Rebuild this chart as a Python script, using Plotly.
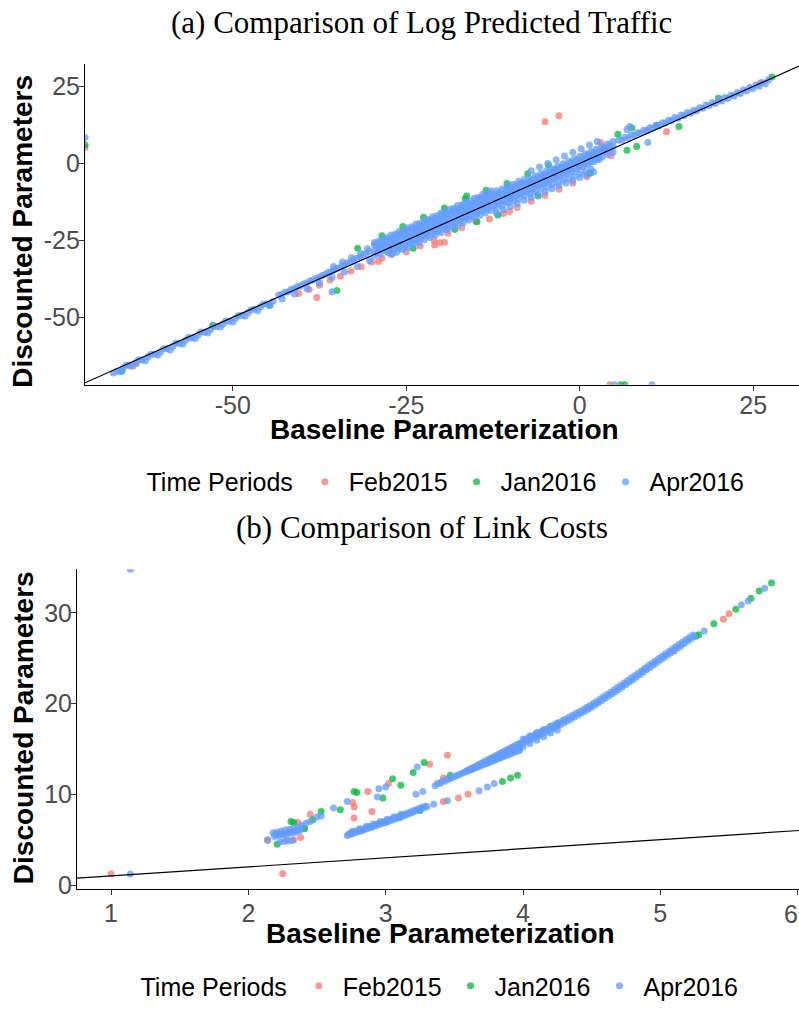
import plotly.graph_objects as go

# ---------------- DATA ----------------
periods = ["Feb2015", "Jan2016", "Apr2016"]
colors = ["#F8766D", "#00BA38", "#619CFF"]

a_xticks = [-50, -25, 0, 25]
a_xtick_labels = ["-50", "-25", "0", "25"]
a_yticks = [-50, -25, 0, 25]
a_ytick_labels = ["-50", "-25", "0", "25"]
b_xticks = [1, 2, 3, 4, 5, 6]
b_xtick_labels = ["1", "2", "3", "4", "5", "6"]
b_yticks = [0, 10, 20, 30]
b_ytick_labels = ["0", "10", "20", "30"]

a_range_x = [-71.3, 31.6]
a_range_y = [-71.9, 32.3]
b_range_x = [0.752, 6.01]
b_range_y = [-0.44, 34.8]

# ----- panel (a): log predicted traffic -----
# Apr2016 (blue), read segment by segment along the band
a_apr_seg1_x = [-67.2, -66.7, -65.8, -64.9, -64.0, -63.1, -62.2, -61.3, -60.4, -59.5, -58.6, -57.7, -56.8, -55.9,
                -55.0, -54.1, -53.2, -52.3, -51.4, -50.5, -49.6, -48.7, -47.8, -46.9, -46.0, -45.1, -44.2,
                -65.4, -63.6, -61.8, -60.0, -58.2, -56.4, -54.6, -52.8, -51.0, -49.2, -47.4, -45.6]
a_apr_seg1_y = [-68.1, -67.5, -66.6, -65.5, -64.8, -63.9, -62.8, -62.0, -61.2, -60.2, -59.4, -58.5, -57.5, -56.7,
                -55.8, -54.9, -54.0, -53.0, -52.2, -51.3, -50.3, -49.4, -48.5, -47.4, -46.6, -45.6, -44.8,
                -65.6, -63.8, -62.0, -60.2, -58.4, -56.6, -54.8, -53.0, -51.2, -49.4, -47.6, -45.8]
a_apr_seg2_x = [-66.2, -64.4, -62.6, -60.8, -59.0, -57.2, -55.4, -53.6, -51.8, -50.0, -48.2, -46.4, -44.6]
a_apr_seg2_y = [-67.6, -65.9, -64.1, -62.3, -60.6, -58.7, -56.9, -55.1, -53.2, -51.5, -49.6, -47.9, -46.0]
a_apr_seg3_x = [-43.4, -42.5, -41.6, -40.7, -39.8, -38.9, -38.0, -37.1, -36.2, -35.3, -34.4, -33.5, -32.6, -31.7, -30.8,
                -42.95, -42.05, -41.15, -40.25, -39.35, -38.45, -37.55, -36.65, -35.75, -34.85, -33.95, -33.05,
                -32.15, -31.25, -30.35,
                -42.9, -41.1, -39.3, -37.5, -35.7, -33.9, -32.1, -30.3,
                -35.5, -34.2, -32.9, -31.6, -30.6, -35.7]
a_apr_seg3_y = [-42.8, -41.9, -41.0, -40.0, -39.2, -38.2, -37.3, -36.4, -35.4, -34.5, -33.5, -32.4, -31.4, -30.4, -29.3,
                -42.6, -41.7, -40.7, -39.8, -38.9, -37.9, -37.0, -36.0, -35.1, -34.1, -33.0, -32.0,
                -30.9, -29.8, -28.6,
                -44.1, -42.4, -40.7, -38.9, -37.1, -35.3, -33.5, -31.6,
                -33.5, -32.0, -30.6, -29.2, -27.7, -41.7]
a_apr_row0_x = [-29.6, -28.4, -27.2, -26.0, -24.8, -23.6, -22.4, -21.2, -20.0, -18.8, -17.6, -16.4, -15.2, -14.0,
                -12.8, -29.0, -27.8, -26.6, -25.4, -24.2, -23.0, -21.8, -20.6, -19.4, -18.2, -17.0, -15.8, -14.6,
                -13.4]
a_apr_row0_y = [-25.7, -24.5, -23.3, -22.1, -20.9, -19.7, -18.5, -17.3, -16.1, -14.9, -13.7, -12.5, -11.3, -10.1,
                -8.9, -25.4, -24.2, -23.0, -21.8, -20.6, -19.4, -18.2, -17.0, -15.8, -14.6, -13.4, -12.2, -11.0,
                -9.8]
a_apr_row1_x = [-29.6, -28.8, -28.0, -27.2, -26.4, -25.6, -24.8, -24.0, -23.2, -22.4, -21.6, -20.8, -20.0, -19.2, -18.4,
                -17.6, -16.8, -16.0, -15.2, -14.4, -13.6, -12.8, -12.0, -11.2, -10.4, -9.6, -8.8, -8.0, -7.2, -6.4,
                -5.6, -4.8, -4.0, -3.2, -2.4, -1.6, -0.8, 0.0, 0.8, 1.6, 2.4, 3.2, 4.0, 4.8]
a_apr_row1_y = [-26.5, -25.9, -24.9, -24.3, -23.3, -22.7, -21.7, -21.1, -20.1, -19.5, -18.5, -17.9, -16.9, -16.3, -15.3,
                -14.7, -13.7, -13.1, -12.1, -11.5, -10.5, -9.9, -8.9, -8.3, -7.3, -6.8, -5.8, -5.2, -4.9, -4.1,
                -3.3, -2.5, -1.7, -0.9, -0.1, 0.7, 1.5, 2.3, 3.1, 3.9, 4.7, 5.5, 6.3, 7.1]
a_apr_row2_x = a_apr_row1_x
a_apr_row2_y = [-28.3, -27.7, -26.7, -26.1, -25.1, -24.5, -23.5, -22.9, -21.9, -21.3, -20.3, -19.7, -18.7, -18.1, -17.1,
                -16.5, -15.5, -14.9, -13.9, -13.3, -12.3, -11.7, -10.7, -10.1, -9.1, -8.5, -7.5, -6.9, -5.9, -5.3,
                -4.4, -3.7, -2.9, -2.1, -1.3, -0.6, 0.2, 0.8, 1.7, 2.3, 3.2, 3.9, 4.8, 5.5]
a_apr_row3_x = a_apr_row1_x
a_apr_row3_y = [-30.1, -29.5, -28.5, -27.9, -26.9, -26.3, -25.3, -24.7, -23.7, -23.1, -22.1, -21.5, -20.5, -19.9, -18.9,
                -18.3, -17.3, -16.7, -15.7, -15.1, -14.1, -13.5, -12.5, -11.9, -10.9, -10.3, -9.4, -8.8, -7.9, -7.2,
                -6.4, -5.6, -4.8, -4.0, -3.2, -2.5, -1.7, -1.0, -0.2, 0.5, 1.3, 2.0, 2.9, 3.6]
a_apr_row4_x = [-27.2, -26.4, -25.6, -24.8, -24.0, -23.2, -22.4, -21.6, -20.8, -20.0, -19.2, -18.4, -17.6, -16.8, -16.0,
                -15.2, -14.4, -13.6, -12.8, -12.0, -11.2, -10.4, -9.6, -8.8, -8.0, -7.2, -6.4, -5.6, -4.8, -4.0,
                -3.2, -2.4, -1.6, -0.8, 0.0, 0.8, 1.6]
a_apr_row4_y = [-29.6, -28.9, -28.0, -27.3, -26.4, -25.7, -24.8, -24.1, -23.2, -22.5, -21.6, -20.9, -20.0, -19.3, -18.4,
                -17.7, -16.9, -16.1, -15.3, -14.5, -13.7, -12.9, -12.1, -11.4, -10.6, -9.8, -9.1, -8.3, -7.6, -6.9,
                -6.2, -5.5, -4.8, -4.1, -3.4, -2.6, -1.9]
a_apr_mid_x = [-29.2, -28.4, -27.6, -26.8, -26.0, -25.2, -24.4, -23.6, -22.8, -22.0, -21.2, -20.4, -19.6, -18.8, -18.0,
               -17.2, -16.4, -15.6, -14.8, -14.0, -13.2, -12.4, -11.6, -10.8, -10.0, -9.2, -8.4, -7.6, -6.8, -6.0,
               -5.2, -4.4, -3.6, -2.8, -2.0, -1.2, -0.4, 0.4, 1.2, 2.0, 2.8, 3.6, 4.4]
a_apr_mid1_y = [-27.1, -26.3, -25.5, -24.7, -23.9, -23.1, -22.3, -21.5, -20.7, -19.9, -19.1, -18.3, -17.5, -16.7, -15.9,
                -15.1, -14.3, -13.5, -12.7, -11.9, -11.1, -10.3, -9.5, -8.7, -7.9, -7.1, -6.3, -6.1, -5.3, -4.5,
                -3.7, -2.9, -2.1, -1.3, -0.5, 0.3, 1.1, 1.9, 2.7, 3.5, 4.3, 5.1, 5.9]
a_apr_mid2_y = [-28.9, -28.1, -27.3, -26.5, -25.7, -24.9, -24.1, -23.3, -22.5, -21.7, -20.9, -20.1, -19.3, -18.5, -17.7,
                -16.9, -16.1, -15.3, -14.5, -13.7, -12.9, -12.1, -11.3, -10.5, -9.7, -8.9, -8.1, -7.3, -6.5, -5.7,
                -4.9, -4.1, -3.3, -2.5, -1.7, -0.9, -0.1, 0.7, 1.5, 2.3, 3.1, 3.9, 4.7]
a_apr_mid3_x = [-27.6, -26.8, -26.0, -25.2, -24.4, -23.6, -22.8, -22.0, -21.2, -20.4, -19.6, -18.8, -18.0, -17.2,
                -16.4, -15.6, -14.8, -14.0, -13.2, -12.4, -11.6, -10.8, -10.0, -9.2, -8.4, -7.6, -6.8, -6.0, -5.2,
                -4.4, -3.6, -2.8, -2.0, -1.2, -0.4, 0.4, 1.2, 2.0, 2.8]
a_apr_mid3_y = [-29.1, -28.3, -27.5, -26.7, -25.9, -25.1, -24.3, -23.5, -22.7, -21.9, -21.1, -20.3, -19.5, -18.7,
                -17.9, -17.1, -16.3, -15.5, -14.7, -13.9, -13.1, -12.3, -11.5, -10.7, -9.9, -9.1, -8.3, -7.5, -6.7,
                -5.9, -5.1, -4.3, -3.5, -2.7, -1.9, -1.1, -0.3, 0.5, 1.3]
a_apr_row5_x = [-12.0, -11.0, -10.0, -9.0, -8.0, -7.0, -6.0, -5.0, -4.0, -3.0, -2.0, -1.0, 0.0, 1.0, 2.0]
a_apr_row5_y = [-16.1, -15.0, -14.0, -13.0, -12.0, -11.1, -10.1, -9.2, -8.2, -7.3, -6.4, -5.5, -4.6, -3.7, -2.8]
a_apr_upper_x = [-7.0, -5.8, -4.6, -3.4, -2.2, -1.0, 0.2, 1.4, 2.5]
a_apr_upper_y = [-2.4, -1.2, 0.0, 1.2, 2.4, 3.6, 4.8, 6.0, 7.1]
a_apr_right_x = [5.6, 6.5, 7.4, 8.3, 9.2, 10.1, 11.0, 11.9, 12.8, 13.7, 14.6, 15.5, 16.4, 17.3, 18.2, 19.1, 20.0,
                 20.9, 21.8, 22.7, 23.6, 24.5, 25.4, 26.3, 27.2,
                 6.05, 6.95, 7.85, 8.75, 9.65, 10.55, 11.45, 12.35, 13.25, 14.15, 15.05, 15.95, 16.85, 17.75,
                 18.65, 19.55, 20.45, 21.35, 22.25, 23.15, 24.05, 24.95, 25.85, 26.75,
                 6.8, 7.2, 9.8]
a_apr_right_y = [7.6, 8.4, 9.2, 10.0, 10.8, 11.6, 12.4, 13.2, 14.0, 14.9, 15.7, 16.5, 17.3, 18.1, 19.0, 19.8, 20.6,
                 21.4, 22.2, 23.0, 23.9, 24.7, 25.5, 26.3, 27.2,
                 7.5, 8.3, 9.1, 9.9, 10.7, 11.5, 12.3, 13.1, 13.9, 14.7, 15.5, 16.3, 17.1, 17.9,
                 18.7, 19.5, 20.3, 21.1, 21.9, 22.7, 23.5, 24.3, 25.1, 25.9,
                 11.0, 12.0, 6.8]
a_apr_edge_x = [-71.3, 5.0, 10.4]
a_apr_edge_y = [8.4, -71.9, -71.9]

# Feb2015 (red)
a_feb_x = [-64.8, -63.9, -40.5, -39.0, -37.5, -36.0, -34.5, -33.0, -31.5, -30.0, -28.5, -27.0, -37.9,
           -20.9, -20.2, -19.5, -10.1, -5.0, -3.0,
           -29.0, -25.0, -23.0, -21.0, -19.0, -17.0, -15.0, -13.0, -11.0, -9.0, -7.0, -5.0, -3.0, -1.0, 1.0,
           3.0, 4.5, 9.7, 12.5, 26.0, -71.3, 4.3]
a_feb_y = [-65.8, -65.1, -42.3, -41.0, -39.6, -37.9, -36.6, -35.0, -33.6, -32.0, -30.7, -29.4, -43.6,
           -26.5, -25.8, -25.6, -15.6, 13.5, 15.5,
           -31.9, -28.7, -26.8, -24.9, -22.7, -20.9, -18.8, -18.1, -16.3, -14.3, -12.3, -10.4, -8.4, -6.4, -4.3,
           6.8, 2.5, 10.6, 10.3, 26.1, 5.2, -71.9]

# Jan2016 (green)
a_jan_x = [-66.0, -52.9, -44.7, -35.0, -32.0, -28.5, -25.5, -22.5, -19.5, -16.5, -13.5, -10.5, -7.5, -4.5,
           -14.8, -11.8, -16.3, 3.5, 5.5, 6.8, 7.5, 8.2, 11.1, 14.3, 20.0, 27.7, -71.3, 5.9, 6.5,
           -24.0, -18.0, -6.0, 1.5]
a_jan_y = [-67.5, -52.6, -46.2, -41.3, -27.6, -23.5, -20.5, -17.5, -14.5, -11.5, -8.7, -6.5, -3.4, -0.5,
           -19.0, -16.8, -10.6, 5.0, 9.5, 4.3, 11.5, 5.5, 12.3, 12.0, 21.2, 28.1, 6.1, -71.9, -71.9,
           -27.6, -21.5, -10.6, -3.2]

# ----- panel (b): link costs -----
b_apr_cluster_x = [1.14, 1.14, 2.14, 2.42, 2.45,
                   2.18, 2.21, 2.24, 2.27, 2.30, 2.33, 2.36, 2.39,
                   2.19, 2.22, 2.25, 2.28, 2.31, 2.34, 2.37,
                   2.205, 2.235, 2.265, 2.295, 2.325, 2.355, 2.385,
                   2.23, 2.26, 2.29, 2.32,
                   2.50, 2.53, 2.62, 2.72, 2.94, 3.00, 2.95, 3.23]
b_apr_cluster_y = [34.8, 1.2, 5.0, 6.8, 7.0,
                   5.75, 5.85, 5.95, 6.05, 6.15, 6.25, 6.4, 6.6,
                   5.35, 5.45, 5.5, 5.6, 5.7, 5.8, 5.95,
                   5.55, 5.65, 5.73, 5.83, 5.93, 6.03, 6.18,
                   4.75, 4.8, 4.85, 4.9,
                   7.5, 7.6, 8.5, 9.2, 9.7, 10.8, 10.6, 13.0]
b_apr_lower_x = [2.72, 2.745, 2.77, 2.795, 2.82, 2.845, 2.87, 2.895, 2.92, 2.945, 2.97, 2.995, 3.02, 3.045,
                 3.07, 3.095, 3.12, 3.145, 3.17, 3.195, 3.22, 3.245, 3.27, 3.30,
                 2.7325, 2.7575, 2.7825, 2.8075, 2.8325, 2.8575, 2.8825, 2.9075, 2.9325, 2.9575, 2.9825, 3.0075,
                 3.0325, 3.0575, 3.0825, 3.1075, 3.1325, 3.1575, 3.1825, 3.2075, 3.2325, 3.2575, 3.285,
                 2.76, 2.81, 2.86, 2.91, 2.96, 3.01, 3.06, 3.11,
                 3.35, 3.45, 3.68, 3.74, 3.79]
b_apr_lower_y = [5.45, 5.57, 5.7, 5.83, 5.96, 6.09, 6.22, 6.35, 6.48, 6.61, 6.74, 6.87, 7.0, 7.13,
                 7.27, 7.41, 7.55, 7.7, 7.85, 8.0, 8.15, 8.3, 8.45, 8.62,
                 5.66, 5.79, 5.92, 6.05, 6.18, 6.31, 6.44, 6.57, 6.7, 6.83, 6.96, 7.09,
                 7.22, 7.35, 7.49, 7.63, 7.78, 7.93, 8.08, 8.23, 8.38, 8.53, 8.69,
                 5.95, 6.2, 6.47, 6.73, 7.0, 7.26, 7.52, 7.8,
                 8.9, 9.3, 10.4, 10.8, 11.2]
b_apr_wedge_x = [3.22, 3.27,
                 3.36, 3.395, 3.43, 3.465, 3.50, 3.535, 3.57, 3.605, 3.64, 3.675, 3.71, 3.745, 3.78, 3.815,
                 3.85, 3.885, 3.92, 3.955, 3.975,
                 3.3775, 3.4125, 3.4475, 3.4825, 3.5175, 3.5525, 3.5875, 3.6225, 3.6575, 3.6925, 3.7275, 3.7625,
                 3.7975, 3.8325, 3.8675, 3.9025, 3.9375, 3.9675,
                 3.605, 3.64, 3.675, 3.71, 3.745, 3.78, 3.815, 3.85, 3.885, 3.92, 3.955, 3.975,
                 3.5875, 3.6225, 3.6575, 3.6925, 3.7275, 3.7625, 3.7975, 3.8325, 3.8675, 3.9025, 3.9375, 3.9675,
                 3.78, 3.815, 3.85, 3.885, 3.92, 3.955, 3.975,
                 3.7275, 3.7625, 3.7975, 3.8325, 3.8675, 3.9025, 3.9375, 3.9675]
b_apr_wedge_y = [10.0, 10.3,
                 10.95, 11.2, 11.45, 11.68, 11.92, 12.16, 12.39, 12.61, 12.82, 13.03, 13.25, 13.46, 13.67, 13.89,
                 14.10, 14.31, 14.53, 14.74, 14.86,
                 11.22, 11.43, 11.65, 11.86, 12.07, 12.29, 12.50, 12.71, 12.93, 13.14, 13.36, 13.57,
                 13.78, 14.0, 14.21, 14.42, 14.64, 14.82,
                 12.70, 12.98, 13.25, 13.53, 13.80, 14.08, 14.35, 14.63, 14.91, 15.18, 15.46, 15.61,
                 12.57, 12.84, 13.12, 13.39, 13.67, 13.94, 14.22, 14.49, 14.77, 15.04, 15.32, 15.55,
                 13.88, 14.12, 14.37, 14.61, 14.86, 15.10, 15.24,
                 13.51, 13.75, 14.0, 14.25, 14.49, 14.73, 14.98, 15.18]
b_apr_curve_x = [4.0, 4.025, 4.05, 4.075, 4.10, 4.125, 4.15, 4.175, 4.20, 4.225, 4.25, 4.275, 4.30, 4.325, 4.35,
                 4.375, 4.40, 4.425, 4.45, 4.475, 4.50, 4.525, 4.55, 4.575, 4.60, 4.625, 4.65, 4.675, 4.70, 4.725,
                 4.75, 4.775, 4.80, 4.825, 4.85, 4.875, 4.90, 4.925, 4.95, 4.975, 5.00, 5.025, 5.05, 5.075, 5.10,
                 5.125, 5.15, 5.175, 5.20, 5.225, 5.25,
                 4.0125, 4.0375, 4.0625, 4.0875, 4.1125, 4.1375, 4.1625, 4.1875, 4.2125, 4.2375, 4.2625, 4.2875,
                 4.3125, 4.3375, 4.3625, 4.3875, 4.4125, 4.4375, 4.4625, 4.4875, 4.5125, 4.5375, 4.5625, 4.5875,
                 4.6125, 4.6375, 4.6625, 4.6875, 4.7125, 4.7375, 4.7625, 4.7875, 4.8125, 4.8375, 4.8625, 4.8875,
                 4.9125, 4.9375, 4.9625, 4.9875, 5.0125, 5.0375, 5.0625, 5.0875, 5.1125, 5.1375, 5.1625, 5.1875,
                 5.2125, 5.2375,
                 4.0, 4.05, 4.1, 4.15, 4.2, 4.25, 4.3,
                 4.0, 4.05, 4.1, 4.15, 4.2, 4.25,
                 5.32, 5.59, 5.64, 5.76]
b_apr_curve_y = [15.65, 15.83, 16.01, 16.19, 16.37, 16.56, 16.75, 16.94, 17.12, 17.31, 17.50, 17.70, 17.90, 18.11,
                 18.31, 18.52, 18.73, 18.95, 19.16, 19.38, 19.60, 19.84, 20.08, 20.33, 20.58, 20.83, 21.08, 21.34,
                 21.59, 21.85, 22.10, 22.37, 22.64, 22.91, 23.18, 23.45, 23.72, 23.99, 24.26, 24.53, 24.80, 25.06,
                 25.32, 25.58, 25.84, 26.10, 26.36, 26.62, 26.88, 27.14, 27.40,
                 16.04, 16.22, 16.40, 16.58, 16.77, 16.96, 17.15, 17.33, 17.52, 17.71, 17.90, 18.10,
                 18.31, 18.51, 18.72, 18.93, 19.14, 19.36, 19.57, 19.79, 20.02, 20.26, 20.51, 20.76,
                 21.01, 21.26, 21.51, 21.77, 22.02, 22.28, 22.54, 22.81, 23.08, 23.35, 23.62, 23.89,
                 24.16, 24.43, 24.70, 24.97, 25.23, 25.49, 25.75, 26.01, 26.27, 26.53, 26.79, 27.05,
                 27.31, 27.57,
                 16.1, 16.45, 16.8, 17.15, 17.5, 17.85, 18.2,
                 15.2, 15.6, 15.95, 16.35, 16.75, 17.1,
                 28.0, 30.9, 31.3, 32.7]

b_feb_x = [1.0, 2.25, 2.14, 2.28, 2.33, 2.38, 2.45, 2.76, 2.77, 2.77, 2.90, 2.87, 3.02, 3.32, 3.45, 3.42,
           3.42, 3.53, 3.60, 5.10, 5.46, 5.50, 2.40, 2.36, 3.00]
b_feb_y = [1.2, 1.25, 4.9, 5.0, 5.0, 5.25, 7.8, 9.1, 8.6, 7.4, 8.1, 10.3, 11.2, 13.3, 14.3, 11.8,
           9.2, 9.6, 10.0, 25.8, 29.3, 29.9, 6.3, 6.9, 6.95]

b_jan_x = [2.21, 2.31, 2.33, 2.47, 2.53, 2.67, 2.77, 2.79, 2.98, 3.05, 3.11, 3.20, 3.28, 3.47, 3.25, 3.85,
           3.91, 3.96, 5.26, 5.28, 5.39, 5.55, 5.66, 5.72, 5.81, 2.20, 2.41, 3.10]
b_jan_y = [4.5, 7.0, 6.9, 7.2, 8.1, 8.3, 10.3, 10.2, 9.6, 11.7, 11.0, 12.4, 13.5, 12.1, 8.2, 11.4,
           11.8, 12.1, 27.46, 27.6, 28.8, 30.4, 31.6, 32.4, 33.3, 5.6, 6.2, 7.45]

a_apr_x = (a_apr_seg1_x + a_apr_seg2_x + a_apr_seg3_x + a_apr_row0_x + a_apr_row1_x + a_apr_row2_x
           + a_apr_row3_x + a_apr_row4_x + a_apr_mid_x + a_apr_mid_x + a_apr_mid3_x + a_apr_row5_x
           + a_apr_upper_x + a_apr_right_x + a_apr_edge_x)
a_apr_y = (a_apr_seg1_y + a_apr_seg2_y + a_apr_seg3_y + a_apr_row0_y + a_apr_row1_y + a_apr_row2_y
           + a_apr_row3_y + a_apr_row4_y + a_apr_mid1_y + a_apr_mid2_y + a_apr_mid3_y + a_apr_row5_y
           + a_apr_upper_y + a_apr_right_y + a_apr_edge_y)
b_apr_x = b_apr_cluster_x + b_apr_lower_x + b_apr_wedge_x + b_apr_curve_x
b_apr_y = b_apr_cluster_y + b_apr_lower_y + b_apr_wedge_y + b_apr_curve_y

# ---------------- FIGURE ----------------
W, H = 799, 1009
ML, MR, MT, MB = 77, 0, 64, 114
PW, PH = W - ML - MR, H - MT - MB


def px_x(p):  # window pixel -> paper fraction
    return (p - ML) / PW


def px_y(p):
    return (H - MB - p) / PH


SANS = "Liberation Sans, Arial, sans-serif"
SERIF = "Liberation Serif, Times New Roman, serif"
MS = 7
OP = 0.75
TICKFONT = dict(family=SANS, size=25, color="#4D4D4D")

fig = go.Figure()
panel_a = [(a_feb_x, a_feb_y), (a_jan_x, a_jan_y), (a_apr_x, a_apr_y)]
panel_b = [(b_feb_x, b_feb_y), (b_jan_x, b_jan_y), (b_apr_x, b_apr_y)]
for i, (xs, ys) in enumerate(panel_a):
    fig.add_trace(go.Scatter(x=xs, y=ys, mode="markers", name=periods[i], xaxis="x", yaxis="y",
                             legend="legend",
                             marker=dict(size=MS, color=colors[i], opacity=OP, line=dict(width=0))))
for i, (xs, ys) in enumerate(panel_b):
    fig.add_trace(go.Scatter(x=xs, y=ys, mode="markers", name=periods[i], xaxis="x2", yaxis="y2",
                             legend="legend2",
                             marker=dict(size=MS, color=colors[i], opacity=OP, line=dict(width=0))))

axis_common = dict(showgrid=False, zeroline=False, showline=True, linecolor="black", linewidth=1.1,
                   ticks="outside", ticklen=5, tickwidth=1.1, tickcolor="#333333",
                   tickfont=TICKFONT, mirror=False)

legend_common = dict(orientation="h", xanchor="center", yanchor="middle",
                     title=dict(text="Time Periods", side="left", font=dict(family=SANS, size=25, color="black")),
                     font=dict(family=SANS, size=25, color="black"), bgcolor="rgba(0,0,0,0)", itemwidth=38)

fig.update_layout(
    width=W, height=H, margin=dict(l=ML, r=MR, t=MT, b=MB),
    paper_bgcolor="white", plot_bgcolor="white",
    xaxis=dict(domain=[px_x(85), 1], anchor="y", range=a_range_x, tickmode="array",
               tickvals=a_xticks, ticktext=a_xtick_labels, ticklabelstandoff=-7, **axis_common),
    yaxis=dict(domain=[px_y(387), 1], anchor="x", range=a_range_y, tickmode="array",
               tickvals=a_yticks, ticktext=a_ytick_labels, ticklabelstandoff=-6, **axis_common),
    xaxis2=dict(domain=[0, 1], anchor="y2", range=b_range_x, tickmode="array",
                tickvals=b_xticks, ticktext=b_xtick_labels, ticklabelstandoff=-3, **axis_common),
    yaxis2=dict(domain=[0, px_y(573)], anchor="x2", range=b_range_y, tickmode="array",
                tickvals=b_yticks, ticktext=b_ytick_labels, ticklabelstandoff=-6, **axis_common),
    legend=dict(x=px_x(447), y=px_y(485), **legend_common),
    legend2=dict(x=px_x(441), y=px_y(993), **legend_common),
    shapes=[
        dict(type="line", xref="x", yref="y", x0=a_range_x[0], y0=a_range_x[0], x1=a_range_x[1], y1=a_range_x[1],
             line=dict(color="black", width=1.2), layer="above"),
        dict(type="line", xref="x2", yref="y2", x0=b_range_x[0], y0=b_range_x[0], x1=b_range_x[1], y1=b_range_x[1],
             line=dict(color="black", width=1.2), layer="above"),
    ],
    annotations=[
        dict(text="(a) Comparison of Log Predicted Traffic", xref="paper", yref="paper", x=px_x(421.5),
             y=px_y(22), xanchor="center", yanchor="middle", showarrow=False,
             font=dict(family=SERIF, size=31, color="black")),
        dict(text="(b) Comparison of Link Costs", xref="paper", yref="paper", x=px_x(422), y=px_y(530.5),
             xanchor="center", yanchor="middle", showarrow=False,
             font=dict(family=SERIF, size=31, color="black")),
        dict(text="<b>Baseline Parameterization</b>", xref="paper", yref="paper", x=px_x(444.5), y=px_y(432),
             xanchor="center", yanchor="middle", showarrow=False, font=dict(family=SANS, size=28, color="black")),
        dict(text="<b>Baseline Parameterization</b>", xref="paper", yref="paper", x=px_x(440.5), y=px_y(940),
             xanchor="center", yanchor="middle", showarrow=False, font=dict(family=SANS, size=28, color="black")),
        dict(text="<b>Discounted Parameters</b>", xref="paper", yref="paper", x=px_x(23), y=px_y(233),
             xanchor="center", yanchor="middle", showarrow=False, textangle=-90,
             font=dict(family=SANS, size=28, color="black")),
        dict(text="<b>Discounted Parameters</b>", xref="paper", yref="paper", x=px_x(23), y=px_y(733),
             xanchor="center", yanchor="middle", showarrow=False, textangle=-90,
             font=dict(family=SANS, size=28, color="black")),
        # the last x tick label of panel (b) sits on the window edge; plotly hides it, so show it flush right
        dict(text=b_xtick_labels[-1], xref="paper", yref="paper", x=1, y=px_y(920),
             xanchor="right", yanchor="middle", showarrow=False, borderpad=0, font=TICKFONT),
    ],
)

# remove the browser's default 8px body margin so the figure fills the 799x1009 window exactly
fig.write_html("out.html", config={"displayModeBar": False},
               post_script="document.body.style.margin='0';"
                           "document.documentElement.style.overflow='hidden';")
